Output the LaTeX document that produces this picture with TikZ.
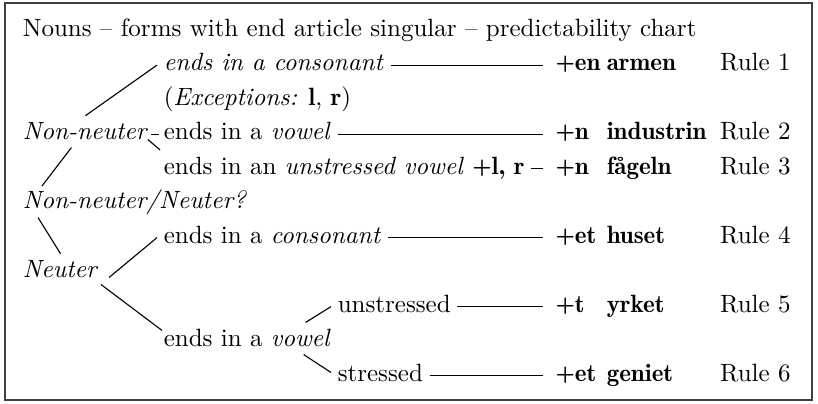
\documentclass[tikz,border=0pt]{standalone}
\renewcommand{\bfdefault}{b}
\begin{document}
\begin{tikzpicture}[
  x=0.4pt,y=-0.4pt,
  txt/.style={anchor=base west,inner sep=2.5pt},
  suf/.style={anchor=base west,inner ysep=2.5pt,inner xsep=5pt,font=\bfseries},
  word/.style={anchor=base west,inner sep=2.5pt,font=\bfseries},
  rulenr/.style={anchor=base east,inner sep=0pt},
  link/.style={draw=black,line width=0.45pt}
]
\useasboundingbox (0,0) rectangle (818,403);
\draw[black!75,line width=0.6pt] (5,3) rectangle (812,400);
\node[txt] (t) at (16,36) {Nouns -- forms with end article singular -- predictability chart};
\node[txt] (c1) at (157,70.5) {\textit{ends in a consonant}};
\node[txt] (x1) at (157,105) {(\textit{Exceptions:} \textbf{l}, \textbf{r})};
\node[txt] (n) at (16,139.5) {\textit{Non-neuter}};
\node[txt] (v1) at (157,139.5) {ends in a \textit{vowel}};
\node[txt] (u1) at (157,174) {ends in an \textit{unstressed vowel} \textbf{+l, r}};
\node[txt] (q) at (16,208.5) {\textit{Non-neuter/Neuter?}};
\node[txt] (c2) at (157,243) {ends in a \textit{consonant}};
\node[txt] (nt) at (16,277.5) {\textit{Neuter}};
\node[txt] (u2) at (331,312) {unstressed};
\node[txt] (v2) at (157,346.5) {ends in a \textit{vowel}};
\node[txt] (s2) at (331,381) {stressed};
\node[suf] (e1) at (542.5,70.5) {+en};
\node[suf] (e2) at (542.5,139.5) {+n};
\node[suf] (e3) at (542.5,174) {+n};
\node[suf] (e4) at (542.5,243) {+et};
\node[suf] (e5) at (542.5,312) {+t};
\node[suf] (e6) at (542.5,381) {+et};
\node[word] (w1) at (600,70.5) {armen};
\node[word] (w2) at (600,139.5) {industrin};
\node[word] (w3) at (600,174) {fågeln};
\node[word] (w4) at (600,243) {huset};
\node[word] (w5) at (600,312) {yrket};
\node[word] (w6) at (600,381) {geniet};
\node[rulenr] (r1) at (791,70.5) {Rule 1};
\node[rulenr] (r2) at (791,139.5) {Rule 2};
\node[rulenr] (r3) at (791,174) {Rule 3};
\node[rulenr] (r4) at (791,243) {Rule 4};
\node[rulenr] (r5) at (791,312) {Rule 5};
\node[rulenr] (r6) at (791,381) {Rule 6};
\draw[link] (n.north) -- (c1.mid west);
\draw[link] ([shift={(-4,0)}]n.mid east) -- ([shift={(2,0)}]v1.mid west);
\draw[link] ([shift={(-7,-7)}]n.south east) -- ([shift={(3,0)}]u1.north west);
\draw[link] ([shift={(-14,1)}]n.south) -- ([shift={(26,3)}]q.north west);
\draw[link] ([shift={(22,-4)}]q.south west) -- (nt.north);
\draw[link] ([shift={(4,0)}]nt.base east) -- (c2.mid west);
\draw[link] ([shift={(-4,0)}]nt.south east) -- ([shift={(5,8)}]v2.north west);
\draw[link] ([shift={(-32,0)}]v2.north east) -- (u2.mid west);
\draw[link] ([shift={(-34,1)}]v2.south east) -- (s2.west);
\draw[link] (c1.mid east) -- (e1.mid west);
\draw[link] (v1.mid east) -- (e2.mid west);
\draw[link] (u1.mid east) -- (e3.mid west);
\draw[link] (c2.mid east) -- (e4.mid west);
\draw[link] (u2.mid east) -- (e5.mid west);
\draw[link] (s2.mid east) -- (e6.mid west);
\end{tikzpicture}
\end{document}
